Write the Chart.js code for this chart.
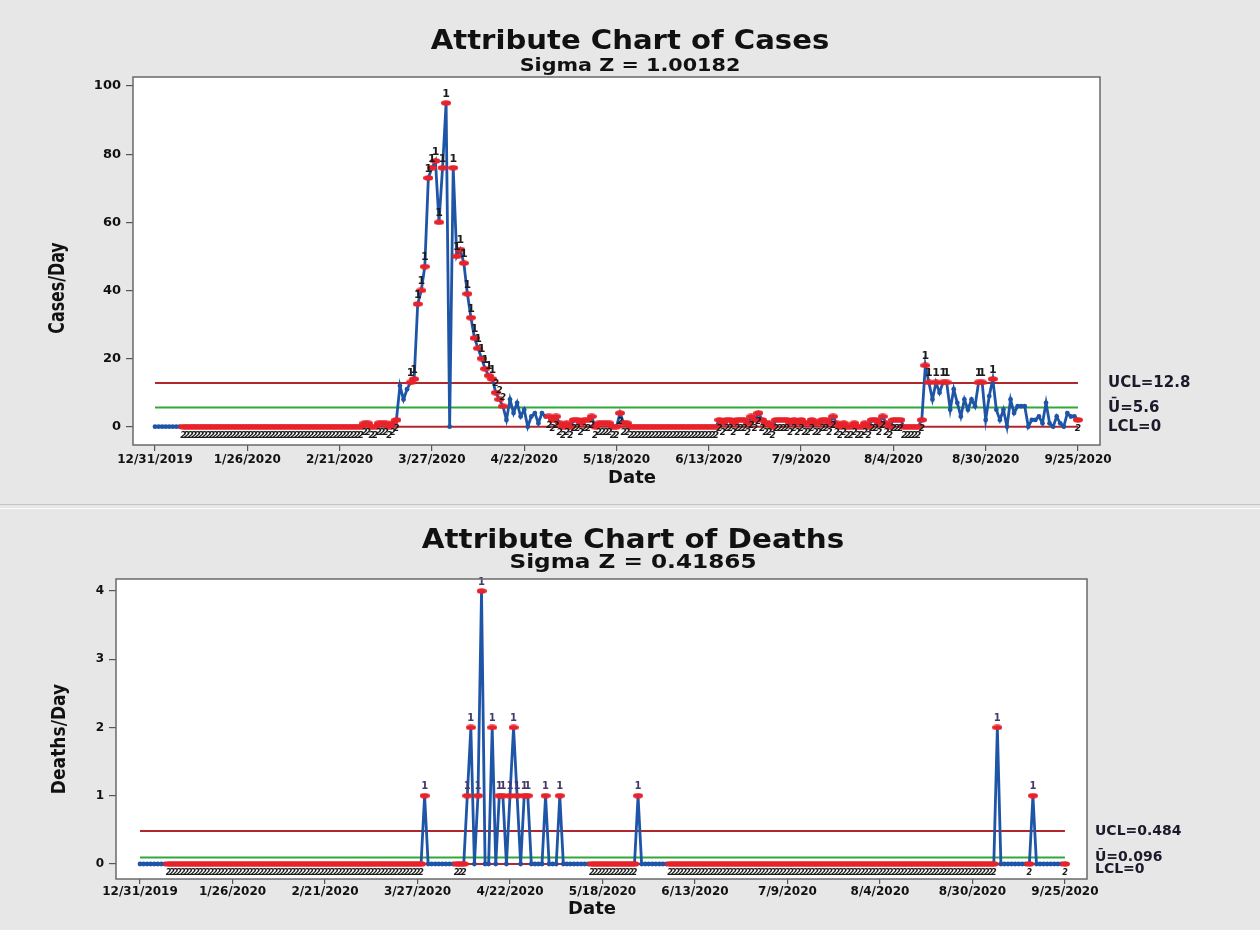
<!DOCTYPE html>
<html>
<head>
<meta charset="utf-8">
<title>Attribute Charts</title>
<script src="https://cdn.jsdelivr.net/npm/chart.js@4.4.1/dist/chart.umd.min.js"></script>
<style>
  html, body { margin: 0; padding: 0; background: #e6e6e6; }
  body { width: 1260px; height: 930px; position: relative; overflow: hidden; }
  .panel { position: absolute; left: 0; width: 1260px; background: #e7e7e7; }
  #topPanel { top: 0; height: 504px; border-bottom: 1px solid #c4c4c4; }
  #botPanel { top: 508px; height: 422px; border-top: 1px solid #fafafa; }
  canvas { display: block; }
</style>
</head>
<body>
<div class="panel" id="topPanel"><canvas id="casesChart" width="1260" height="504"></canvas></div>
<div class="panel" id="botPanel"><canvas id="deathsChart" width="1260" height="422"></canvas></div>
<script>
// tick labels on the date axis (one every 26 observations)
const dateLabels = ['12/31/2019', '1/26/2020', '2/21/2020', '3/27/2020', '4/22/2020', '5/18/2020',
                    '6/13/2020', '7/9/2020', '8/4/2020', '8/30/2020', '9/25/2020'];
const dateTickIndex = [0, 26, 52, 78, 104, 130, 156, 182, 208, 234, 260];

// daily cases, one value per observation (261 points)
const casesPerDay = [
  0, 0, 0, 0, 0, 0, 0, 0, 0, 0, 0, 0, 0, 0, 0, 0, 0, 0, 0, 0,
  0, 0, 0, 0, 0, 0, 0, 0, 0, 0, 0, 0, 0, 0, 0, 0, 0, 0, 0, 0,
  0, 0, 0, 0, 0, 0, 0, 0, 0, 0, 0, 0, 0, 0, 0, 0, 0, 0, 0, 1,
  1, 0, 0, 1, 1, 1, 0, 1, 2, 12, 8, 11, 13, 14, 36, 40, 47, 73, 76, 78,
  60, 76, 95, 0, 76, 50, 52, 48, 39, 32, 26, 23, 20, 17, 15, 14, 10, 8, 6, 2,
  8, 4, 7, 3, 5, 0, 3, 4, 1, 4, 3, 3, 2, 3, 1, 0, 1, 0, 2, 2,
  1, 2, 2, 3, 0, 1, 1, 1, 1, 0, 0, 4, 1, 1, 0, 0, 0, 0, 0, 0,
  0, 0, 0, 0, 0, 0, 0, 0, 0, 0, 0, 0, 0, 0, 0, 0, 0, 0, 0, 2,
  1, 2, 2, 1, 2, 2, 2, 1, 3, 2, 4, 2, 1, 1, 0, 2, 2, 2, 2, 1,
  2, 1, 2, 1, 1, 2, 1, 1, 2, 2, 1, 3, 1, 0, 1, 0, 0, 1, 0, 0,
  1, 0, 2, 2, 1, 3, 1, 0, 2, 2, 2, 0, 0, 0, 0, 0, 2, 18, 13, 8,
  13, 10, 13, 13, 5, 11, 7, 3, 8, 5, 8, 6, 13, 13, 2, 9, 14, 5, 2, 5,
  0, 8, 4, 6, 6, 6, 0, 2, 2, 3, 1, 7, 1, 0, 3, 1, 0, 4, 3, 3, 2
];

// daily deaths, same observations
const deathsPerDay = [
  0, 0, 0, 0, 0, 0, 0, 0, 0, 0, 0, 0, 0, 0, 0, 0, 0, 0, 0, 0,
  0, 0, 0, 0, 0, 0, 0, 0, 0, 0, 0, 0, 0, 0, 0, 0, 0, 0, 0, 0,
  0, 0, 0, 0, 0, 0, 0, 0, 0, 0, 0, 0, 0, 0, 0, 0, 0, 0, 0, 0,
  0, 0, 0, 0, 0, 0, 0, 0, 0, 0, 0, 0, 0, 0, 0, 0, 0, 0, 0, 0,
  1, 0, 0, 0, 0, 0, 0, 0, 0, 0, 0, 0, 1, 2, 0, 1, 4, 0, 0, 2,
  0, 1, 1, 0, 1, 2, 1, 0, 1, 1, 0, 0, 0, 0, 1, 0, 0, 0, 1, 0,
  0, 0, 0, 0, 0, 0, 0, 0, 0, 0, 0, 0, 0, 0, 0, 0, 0, 0, 0, 0,
  1, 0, 0, 0, 0, 0, 0, 0, 0, 0, 0, 0, 0, 0, 0, 0, 0, 0, 0, 0,
  0, 0, 0, 0, 0, 0, 0, 0, 0, 0, 0, 0, 0, 0, 0, 0, 0, 0, 0, 0,
  0, 0, 0, 0, 0, 0, 0, 0, 0, 0, 0, 0, 0, 0, 0, 0, 0, 0, 0, 0,
  0, 0, 0, 0, 0, 0, 0, 0, 0, 0, 0, 0, 0, 0, 0, 0, 0, 0, 0, 0,
  0, 0, 0, 0, 0, 0, 0, 0, 0, 0, 0, 0, 0, 0, 0, 0, 0, 0, 0, 0,
  0, 2, 0, 0, 0, 0, 0, 0, 0, 0, 0, 1, 0, 0, 0, 0, 0, 0, 0, 0, 0
];

// control limits: UCL, U-bar, LCL
const casesLimits = [12.8, 5.6, 0];
const deathsLimits = [0.484, 0.096, 0];
const casesLimitText = ['UCL=12.8', '\u016A=5.6', 'LCL=0'];
const deathsLimitText = ['UCL=0.484', '\u016A=0.096', 'LCL=0'];

const casesYTicks = [0, 20, 40, 60, 80, 100];
const deathsYTicks = [0, 1, 2, 3, 4];

const BLUE = '#1f55a6';
const RED = '#e8222a';
const LIMIT_RED = '#b0282c';
const CL_GREEN = '#33a83a';
const FONT = "'DejaVu Sans', 'Open Sans', sans-serif";
const NARROW = "'Liberation Sans Narrow', 'DejaVu Sans Condensed', sans-serif";

// Minitab test 1 (beyond limits) and test 2 (9 in a row on one side of the centre line)
function testFlags(values, limits) {
    const ucl = limits[0], cl = limits[1], lcl = limits[2];
    let run = 0, side = 0;
    return values.map(v => {
        const s = v > cl ? 1 : (v < cl ? -1 : 0);
        if (s !== 0 && s === side) run++;
        else { run = s ? 1 : 0; side = s; }
        if (v > ucl || v < lcl) return 1;
        if (run >= 9) return 2;
        return 0;
    });
}

// red flat marker used for flagged points
const redMark = document.createElement('canvas');
redMark.width = 10; redMark.height = 6;
(function () {
    const c = redMark.getContext('2d');
    c.fillStyle = RED;
    c.beginPath();
    c.ellipse(5, 3, 5, 2.8, 0, 0, Math.PI * 2);
    c.fill();
})();

// text stretched along its own direction (the reference is a widened image)
function stretchText(ctx, text, x, y, font, sx, rot) {
    ctx.save();
    ctx.translate(x, y);
    if (rot) ctx.rotate(rot);
    ctx.scale(sx, 1);
    ctx.font = font;
    ctx.fillText(text, 0, 0);
    ctx.restore();
}

const frameAndText = {
    id: 'frameAndText',
    beforeDraw(chart) {
        const a = chart.chartArea, ctx = chart.ctx;
        ctx.save();
        ctx.fillStyle = '#ffffff';
        ctx.fillRect(a.left, a.top, a.right - a.left, a.bottom - a.top);
        ctx.restore();
    },
    afterDatasetsDraw(chart, args, o) {
        // test labels next to flagged points
        const ctx = chart.ctx;
        const meta = chart.getDatasetMeta(0);
        const clPix = chart.scales.y.getPixelForValue(o.limits[1]);
        ctx.save();
        ctx.textAlign = 'center';
        ctx.textBaseline = 'middle';
        meta.data.forEach((pt, i) => {
            const f = o.flags[i];
            if (!f) return;
            const above = f === 1 || pt.y < clPix - 0.5;
            if (f === 1) { ctx.font = o.font1; ctx.fillStyle = o.color1; }
            else { ctx.font = o.font2; ctx.fillStyle = '#1a1a1a'; }
            ctx.fillText(String(f), pt.x, above ? pt.y - o.labelGap : pt.y + o.labelGap);
        });
        ctx.restore();
    },
    afterDraw(chart, args, o) {
        const a = chart.chartArea, ctx = chart.ctx;
        const y = chart.scales.y;
        ctx.save();
        ctx.strokeStyle = '#6a6a6a';
        ctx.lineWidth = 1.5;
        ctx.strokeRect(a.left, a.top, a.right - a.left, a.bottom - a.top);

        ctx.fillStyle = '#111';
        ctx.textAlign = 'center';
        ctx.textBaseline = 'middle';
        stretchText(ctx, o.title, o.titleX, o.titleY, 'bold ' + o.titleSize + 'px ' + FONT, o.titleSx);
        stretchText(ctx, o.subtitle, o.titleX, o.subY, 'bold ' + o.subSize + 'px ' + FONT, o.subSx);
        stretchText(ctx, 'Date', o.dateX, o.dateY, 'bold ' + o.dateSize + 'px ' + FONT, 1);
        stretchText(ctx, o.yTitle, o.yTitleX, o.yTitleY, 'bold ' + o.yTitleSize + 'px ' + NARROW,
                    o.yTitleSx, -Math.PI / 2);

        // limit labels on the right, kept apart when they crowd
        const py = o.limits.map(v => y.getPixelForValue(v));
        if (py[1] - py[0] < o.minSep) py[1] = py[0] + o.minSep;
        if (py[2] - py[1] < o.minSep) py[2] = py[1] + o.minSep;
        ctx.textAlign = 'left';
        ctx.font = 'bold ' + o.limitSize + 'px ' + FONT;
        ctx.fillStyle = '#1a1a2a';
        o.limitText.forEach((t, i) => ctx.fillText(t, o.limitX, py[i]));
        ctx.restore();
    }
};

function buildChart(canvasId, values, limits, cfg) {
    const flags = testFlags(values, limits);
    const points = values.map((v, i) => ({ x: i, y: v }));
    const first = dateTickIndex[0], last = dateTickIndex[dateTickIndex.length - 1];
    const limitLine = (v, color) => ({
        data: [{ x: first, y: v }, { x: last, y: v }],
        borderColor: color, borderWidth: 2, pointRadius: 0, order: 2
    });

    return new Chart(document.getElementById(canvasId), {
        type: 'line',
        data: {
            datasets: [
                {
                    data: points,
                    borderColor: BLUE,
                    borderWidth: 2.8,
                    tension: 0,
                    order: 0,
                    pointStyle: c => flags[c.dataIndex] ? redMark : 'circle',
                    pointRadius: 2.4,
                    pointBackgroundColor: BLUE,
                    pointBorderColor: BLUE,
                    pointBorderWidth: 0
                },
                limitLine(limits[0], LIMIT_RED),
                limitLine(limits[1], CL_GREEN),
                limitLine(limits[2], LIMIT_RED)
            ]
        },
        options: {
            responsive: false,
            animation: false,
            devicePixelRatio: 1,
            layout: { padding: cfg.padding },
            plugins: {
                legend: { display: false },
                tooltip: { enabled: false },
                frameAndText: Object.assign({ flags: flags, limits: limits }, cfg.text)
            },
            scales: {
                x: {
                    type: 'linear',
                    min: cfg.xMin, max: cfg.xMax,
                    afterBuildTicks: s => { s.ticks = dateTickIndex.map(v => ({ value: v })); },
                    afterFit: s => { s.height = cfg.xAxisHeight; },
                    border: { display: false },
                    grid: { drawOnChartArea: false, tickLength: cfg.xTickLength, color: '#555', lineWidth: 1.2 },
                    ticks: {
                        autoSkip: false, maxRotation: 0, padding: cfg.xTickPad, color: '#111',
                        font: { family: FONT, size: cfg.xTickSize, weight: 'bold' },
                        callback: v => dateLabels[dateTickIndex.indexOf(v)]
                    }
                },
                y: {
                    type: 'linear',
                    min: cfg.yMin, max: cfg.yMax,
                    afterBuildTicks: s => { s.ticks = cfg.yTicks.map(v => ({ value: v })); },
                    afterFit: s => { s.width = cfg.yAxisWidth; },
                    border: { display: false },
                    grid: { drawOnChartArea: false, tickLength: 7, color: '#555', lineWidth: 1.2 },
                    ticks: {
                        padding: 5, color: '#111',
                        font: { family: FONT, size: cfg.yTickSize, weight: 'bold' }
                    }
                }
            }
        },
        plugins: [frameAndText]
    });
}

buildChart('casesChart', casesPerDay, casesLimits, {
    padding: { left: 0, top: 77, right: 160, bottom: 33 },
    xMin: -6.2, xMax: 266.2, yMin: -5.37, yMax: 102.64,
    yTicks: casesYTicks, yAxisWidth: 133, xAxisHeight: 26,
    xTickLength: 6, xTickPad: 2, xTickSize: 12, yTickSize: 13,
    text: {
        title: 'Attribute Chart of Cases', subtitle: 'Sigma Z = 1.00182',
        titleX: 630, titleY: 42, subY: 66, titleSize: 26, titleSx: 1.12, subSize: 18, subSx: 1.15,
        dateX: 632, dateY: 478, dateSize: 18,
        yTitle: 'Cases/Day', yTitleX: 58, yTitleY: 288, yTitleSize: 22, yTitleSx: 0.8,
        limitText: casesLimitText, limitX: 1108, limitSize: 15, minSep: 14,
        font1: 'bold 11px ' + FONT, font2: 'italic bold 9px ' + FONT, color1: '#1c1c1c', labelGap: 9
    }
});

buildChart('deathsChart', deathsPerDay, deathsLimits, {
    padding: { left: 0, top: 70, right: 173, bottom: 28 },
    xMin: -6.75, xMax: 266.2, yMin: -0.22, yMax: 4.176,
    yTicks: deathsYTicks, yAxisWidth: 116, xAxisHeight: 24,
    xTickLength: 5, xTickPad: 1, xTickSize: 12, yTickSize: 12,
    text: {
        title: 'Attribute Chart of Deaths', subtitle: 'Sigma Z = 0.41865',
        titleX: 633, titleY: 32, subY: 54, titleSize: 26, titleSx: 1.13, subSize: 19, subSx: 1.22,
        dateX: 592, dateY: 400, dateSize: 18,
        yTitle: 'Deaths/Day', yTitleX: 60, yTitleY: 230, yTitleSize: 20, yTitleSx: 0.95,
        limitText: deathsLimitText, limitX: 1095, limitSize: 14, minSep: 12,
        font1: 'bold 10px ' + FONT, font2: 'italic bold 8px ' + FONT, color1: '#45386a', labelGap: 9
    }
});
</script>
</body>
</html>
